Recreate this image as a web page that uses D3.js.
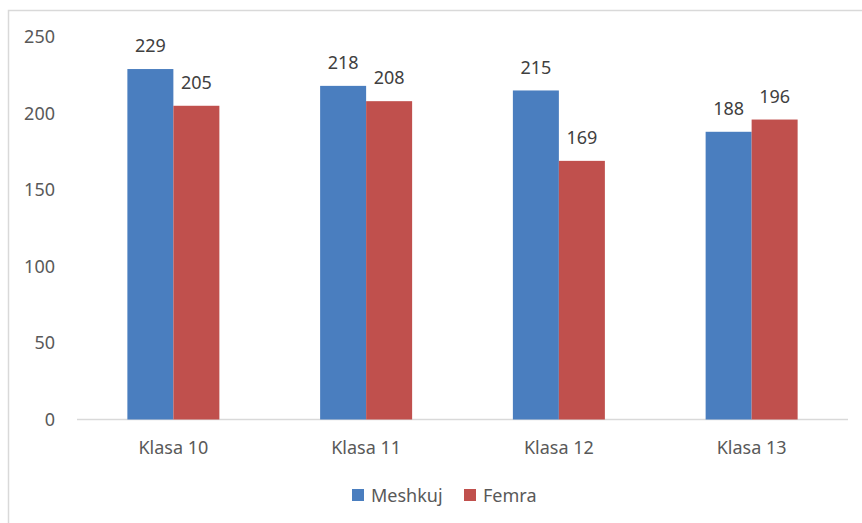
<!DOCTYPE html>
<html><head><meta charset="utf-8">
<script src="https://cdn.jsdelivr.net/npm/d3@7"></script>
<style>body{margin:0;background:#fff}svg{display:block}text{font-family:"Noto Sans","Open Sans",sans-serif}</style>
</head><body>
<svg id="c" width="862" height="523"></svg>
<script>
const categories = ["Klasa 10","Klasa 11","Klasa 12","Klasa 13"];
const seriesNames = ["Meshkuj","Femra"];
const meshkuj = [229,218,215,188];
const femra = [205,208,169,196];
const yTicks = [0,50,100,150,200,250];
const colors = ["#4A7EBF","#C0504D"];
const fs = 18;

const svg = d3.select("#c");
svg.append("rect").attr("x",8.5).attr("y",10.5).attr("width",900).attr("height",600)
  .attr("fill","none").attr("stroke","#d9d9d9").attr("stroke-width",1.5);

const x0 = d3.scaleBand().domain(categories).range([77,848]).paddingInner(0).paddingOuter(0);
const bw = 46;
const x1 = d3.scaleBand().domain(seriesNames).range([0,bw*2]);
const y = d3.scaleLinear().domain([0,250]).range([419.5,36.9]);

const data = categories.map((c,i)=>({c, vals:[meshkuj[i],femra[i]]}));

svg.append("g").selectAll("text").data(yTicks).join("text")
  .attr("x",55).attr("y",d=>y(d)).attr("dy","0.35em").attr("text-anchor","end")
  .attr("font-size",fs).attr("fill","#595959").text(d=>d);

svg.append("line").attr("x1",77).attr("x2",848).attr("y1",y(0)).attr("y2",y(0))
  .attr("stroke","#d9d9d9").attr("stroke-width",1.5);

const g = svg.append("g").selectAll("g").data(data).join("g")
  .attr("transform",d=>`translate(${x0(d.c)+x0.bandwidth()/2-bw},0)`);
g.selectAll("rect").data(d=>d.vals.map((v,j)=>({v,s:seriesNames[j],j}))).join("rect")
  .attr("x",d=>x1(d.s)).attr("width",x1.bandwidth()).attr("y",d=>y(d.v))
  .attr("height",d=>y(0)-y(d.v)).attr("fill",d=>colors[d.j]);
g.selectAll("text").data(d=>d.vals.map((v,j)=>({v,s:seriesNames[j],j}))).join("text")
  .attr("x",d=>x1(d.s)+x1.bandwidth()/2).attr("y",d=>y(d.v)-23).attr("dy","0.35em")
  .attr("text-anchor","middle").attr("font-size",fs).attr("fill","#404040").text(d=>d.v);

svg.append("g").selectAll("text").data(categories).join("text")
  .attr("x",d=>x0(d)+x0.bandwidth()/2).attr("y",448).attr("dy","0.35em")
  .attr("text-anchor","middle").attr("font-size",fs).attr("fill","#595959").text(d=>d);

const lg = svg.append("g");
const legX = [352,464];
seriesNames.forEach((s,i)=>{
  lg.append("rect").attr("x",legX[i]).attr("y",489).attr("width",12).attr("height",12).attr("fill",colors[i]);
  lg.append("text").attr("x",legX[i]+19).attr("y",495.5).attr("dy","0.35em").attr("font-size",fs)
    .attr("fill","#595959").text(s);
});
</script>
</body></html>
